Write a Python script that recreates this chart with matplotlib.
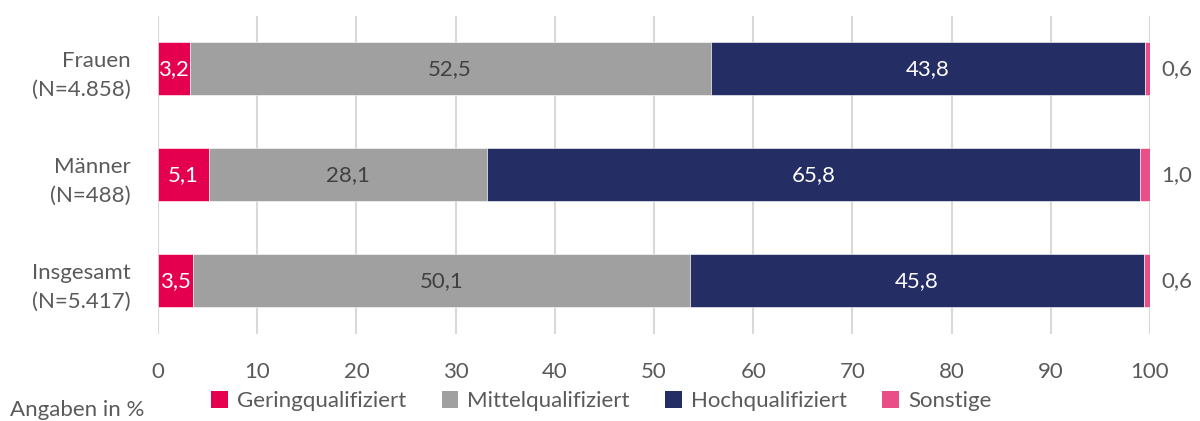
import numpy as np
import matplotlib.pyplot as plt
from matplotlib.patches import Patch

plt.rcParams['font.family'] = ['Lato', 'DejaVu Sans']

groups = ['Frauen\n(N=4.858)', 'Männer\n(N=488)', 'Insgesamt\n(N=5.417)']
series = ['Geringqualifiziert', 'Mittelqualifiziert', 'Hochqualifiziert', 'Sonstige']
gering = [3.2, 5.1, 3.5]
mittel = [52.5, 28.1, 50.1]
hoch = [43.8, 65.8, 45.8]
sonst = [0.6, 1.0, 0.6]

colors = ['#E4004F', '#A0A0A0', '#252E64', '#E94E87']
txt_colors = ['white', '#404040', 'white', None]
grey_txt = '#5A5A5A'
fs = 16

fig = plt.figure(figsize=(12, 4.21), dpi=100)
ax = fig.add_axes([0.1317, 0.2067, 0.8266, 0.7553])

y = np.arange(len(groups))
left = np.zeros(len(groups))
for name, vals, c, tc in zip(series, [gering, mittel, hoch, sonst], colors, txt_colors):
    vals = np.array(vals)
    ax.barh(y, vals, left=left, height=0.5, color=c, edgecolor='white',
            linewidth=0.4, zorder=3, label=name)
    for yi, l, v in zip(y, left, vals):
        txt = f'{v:.1f}'.replace('.', ',')
        if tc is None:
            ax.annotate(txt, (100, yi), xytext=(8, 0), textcoords='offset points',
                        ha='left', va='center', fontsize=fs, color=grey_txt)
        else:
            ax.text(l + v / 2, yi, txt, ha='center', va='center',
                    fontsize=fs, color=tc, zorder=4)
    left += vals

ax.set_xlim(0, 100)
ax.set_ylim(2.5, -0.5)
ax.set_xticks(np.arange(0, 101, 10))
ax.set_yticks(y)
ax.set_yticklabels(groups, fontsize=fs, color=grey_txt, linespacing=1.55)
ax.tick_params(axis='x', labelsize=fs, colors=grey_txt, length=0, pad=20)
ax.tick_params(axis='y', length=0, pad=20)
ax.grid(axis='x', color='#D9D9D9', linewidth=1.5, zorder=0)
for s in ax.spines.values():
    s.set_visible(False)

handles = [Patch(facecolor=c, label=s) for s, c in zip(series, colors)]
fig.legend(handles=handles, loc='center', bbox_to_anchor=(0.501, 0.047), ncol=4,
           frameon=False, fontsize=fs, handlelength=0.75, handleheight=0.75,
           handletextpad=0.4, columnspacing=1.6, labelcolor=grey_txt)
fig.text(0.008, 0.025, 'Angaben in %', fontsize=fs, color=grey_txt, va='center')

fig.savefig('out.png', dpi=100)
